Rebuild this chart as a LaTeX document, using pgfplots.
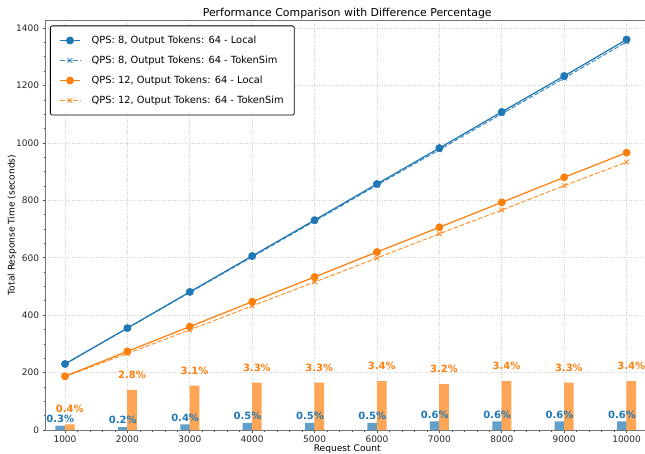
\documentclass[border=0pt]{standalone}
\usepackage{pgfplots}
\pgfplotsset{compat=1.18}
\usepackage{fontspec}
\setmainfont{DejaVu Sans}
\usetikzlibrary{calc}
\definecolor{tblue}{HTML}{1F77B4}
\definecolor{torange}{HTML}{FF7F0E}
\definecolor{bblue}{RGB}{98,160,203}
\definecolor{borange}{RGB}{255,165,86}

\pgfplotstableread{
x local tokensim
1000 230 229.3
2000 355 354.3
3000 481 479.1
4000 606 603.0
5000 731 727.3
6000 857 852.7
7000 982 976.1
8000 1108 1101.4
9000 1233 1225.6
10000 1360 1351.8
}\qpseight

\pgfplotstableread{
x local tokensim
1000 187 186.3
2000 274 266.3
3000 360 348.8
4000 447 432.2
5000 533 515.4
6000 620 598.9
7000 706 683.4
8000 793 766.0
9000 880 851.0
10000 966 933.2
}\qpstwelve

\pgfplotstableread{
x bar lab p
925 15 39 0.3
1925 10 34 0.2
2925 20 44 0.4
3925 25 49 0.5
4925 25 49 0.5
5925 25 49 0.5
6925 30 54 0.6
7925 30 54 0.6
8925 30 54 0.6
9925 30 54 0.6
}\diffeight

\pgfplotstableread{
x bar lab p
1075 20 72 0.4
2075 140 192 2.8
3075 155 207 3.1
4075 165 217 3.3
5075 165 217 3.3
6075 170 222 3.4
7075 160 212 3.2
8075 170 222 3.4
9075 165 217 3.3
10075 170 222 3.4
}\difftwelve

\begin{document}
\begin{tikzpicture}
\begin{axis}[
 scale only axis, width=603.5pt, height=410pt,
 xmin=687.5, xmax=10359, ymin=0, ymax=1428,
 xtick={1000,2000,...,10000}, ytick={0,200,...,1400},
 minor x tick num=4, minor y tick num=3,
 xtick pos=left, ytick pos=left, tick align=outside,
 major tick length=2.9pt, minor tick length=1.7pt,
 every tick/.style={black!70, line width=0.6pt},
 axis line style={black!55, line width=0.7pt},
 grid=major, grid style={dotted, black!18, line width=0.6pt},
 scaled ticks=false,
 /pgf/number format/1000 sep={},
 /pgf/number format/assume math mode=true,
 tick label style={font=\fontsize{9}{10}\selectfont, text=black!85},
 xticklabel style={anchor=base, yshift=-9.7pt},
 label style={font=\fontsize{9.1}{10}\selectfont},
 xlabel={Request Count}, ylabel={Total Response Time (seconds)},
 xlabel style={at={(rel axis cs:0.5,0)}, anchor=base, yshift=-21pt},
 ylabel style={at={(rel axis cs:0,0.5)}, anchor=center, yshift=33.5pt},
 title={Performance Comparison with Difference Percentage},
 title style={font=\fontsize{10.9}{12}\selectfont, at={(rel axis cs:0.5,1)}, anchor=base, yshift=-3pt},
 legend style={at={(0,1)}, anchor=north west, xshift=4.5pt, yshift=-5.5pt,
   draw=black, line width=0.8pt, rounded corners=2pt,
   font=\fontsize{9.85}{11}\selectfont, row sep=7.2pt, column sep=9.5pt,
   inner xsep=9pt, inner ysep=8.2pt,
   nodes={inner sep=1.5pt, text height=7.5pt, text depth=2.3pt}},
 legend cell align=left,
 legend image code/.code={\draw[mark repeat=2, mark phase=2, #1] plot coordinates {(0pt,0pt) (10pt,0pt) (20pt,0pt)};},
]
\coordinate (ll) at (rel axis cs:0,0);
\coordinate (ur) at (rel axis cs:1,1);

% difference bars
\addplot[forget plot, ybar, bar width=155, bar shift=0pt, fill=bblue, draw=none] table[x=x, y=bar] {\diffeight};
\addplot[forget plot, ybar, bar width=155, bar shift=0pt, fill=borange, draw=none] table[x=x, y=bar] {\difftwelve};

% percentage labels
\addplot[forget plot, draw=none, mark=none, point meta=explicit,
  nodes near coords={\pgfmathprintnumber[fixed, fixed zerofill, precision=1]{\pgfplotspointmeta}\%},
  nodes near coords style={anchor=center, inner sep=0pt, font=\fontsize{10}{11}\selectfont\bfseries, text=tblue}]
  table[x=x, y=lab, meta=p] {\diffeight};
\addplot[forget plot, draw=none, mark=none, point meta=explicit,
  nodes near coords={\pgfmathprintnumber[fixed, fixed zerofill, precision=1]{\pgfplotspointmeta}\%},
  nodes near coords style={anchor=center, inner sep=0pt, font=\fontsize{10}{11}\selectfont\bfseries, text=torange}]
  table[x=x, y=lab, meta=p] {\difftwelve};

% lines
\addplot[tblue, line width=1.24pt, mark=*, mark size=3.3pt, mark options={solid}] table[x=x, y=local] {\qpseight};
\addlegendentry{QPS: 8, Output Tokens: 64 - Local}
\addplot[tblue, line width=1pt, dash pattern=on 4.6pt off 2pt, mark=x, mark size=3.3pt, mark options={solid}, opacity=0.85] table[x=x, y=tokensim] {\qpseight};
\addlegendentry{QPS: 8, Output Tokens: 64 - TokenSim}
\addplot[torange, line width=1.24pt, mark=*, mark size=3.3pt, mark options={solid}] table[x=x, y=local] {\qpstwelve};
\addlegendentry{QPS: 12, Output Tokens: 64 - Local}
\addplot[torange, line width=1pt, dash pattern=on 4.6pt off 2pt, mark=x, mark size=3.3pt, mark options={solid}, opacity=0.85] table[x=x, y=tokensim] {\qpstwelve};
\addlegendentry{QPS: 12, Output Tokens: 64 - TokenSim}
\end{axis}
\pgfresetboundingbox
\path[use as bounding box] ($(ll)+(-45.5pt,-23pt)$) rectangle ($(ur)+(-4pt,20pt)$);
\end{tikzpicture}
\end{document}
